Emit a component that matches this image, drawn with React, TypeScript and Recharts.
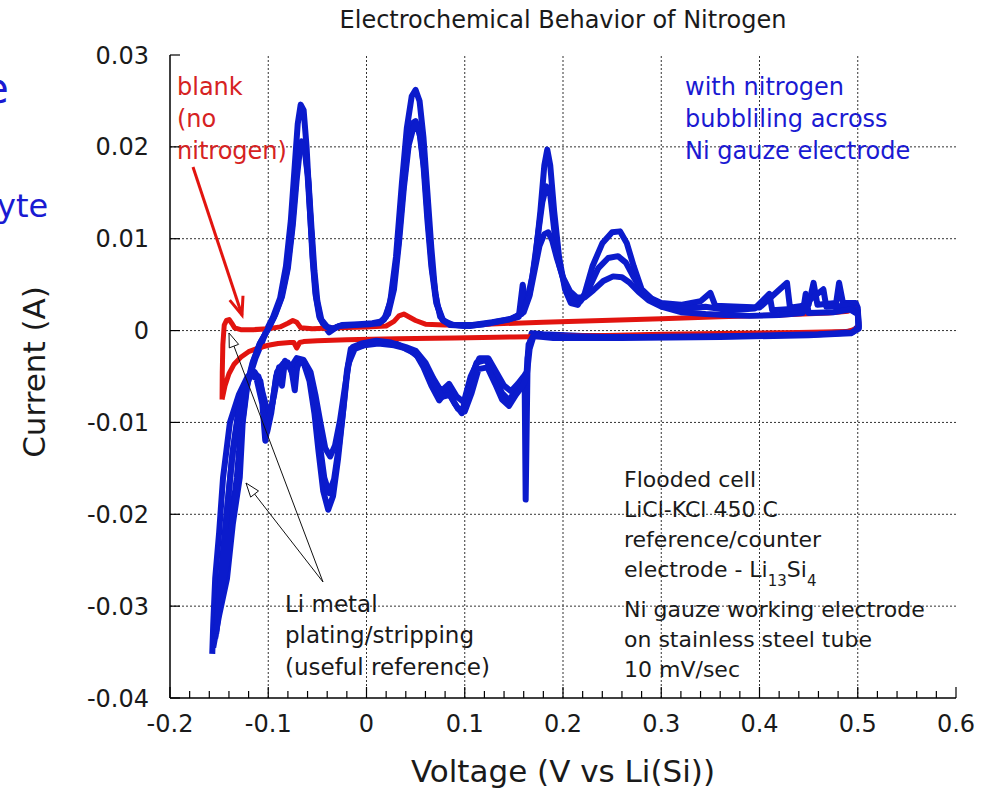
import React from 'react';
import { LineChart, Line, XAxis, YAxis, ReferenceLine } from 'recharts';

const FONT = '"DejaVu Sans", "Liberation Sans", sans-serif';
const BLUE = '#0b1bcc';
const RED = '#e2140f';
const TEXT_BLUE = '#1a1ad2';
const TEXT_RED = '#d62222';
const INK = '#1a1a1a';

// Axis ticks and their labels
const X_MAJOR = [-0.2, -0.1, 0, 0.1, 0.2, 0.3, 0.4, 0.5, 0.6];
const X_LABELS = ['-0.2', '-0.1', '0', '0.1', '0.2', '0.3', '0.4', '0.5', '0.6'];
const X_TICKS = Array.from({ length: 41 }, (_, k) => Math.round((-0.2 + k * 0.02) * 100) / 100);
const Y_MAJOR = [0.03, 0.02, 0.01, 0, -0.01, -0.02, -0.03, -0.04];
const Y_LABELS = ['0.03', '0.02', '0.01', '0', '-0.01', '-0.02', '-0.03', '-0.04'];

type Pt = [number, number]; // [voltage V, current A]

// Nitrogen-bubbling scans: anodic sweep up to 0.5 V, then cathodic sweep back
const BLUE_CYCLE_1: Pt[] = [
  [-0.156, -0.0345], [-0.15, -0.031], [-0.142, -0.027], [-0.136, -0.021], [-0.129, -0.016],
  [-0.126, -0.01], [-0.121, -0.0057], [-0.113, -0.003], [-0.106, -0.0012], [-0.102, 0.0],
  [-0.095, 0.0015], [-0.088, 0.0035], [-0.082, 0.007], [-0.077, 0.012], [-0.073, 0.018],
  [-0.07, 0.0225], [-0.067, 0.0246], [-0.064, 0.024], [-0.061, 0.02], [-0.058, 0.014],
  [-0.055, 0.008], [-0.052, 0.004], [-0.048, 0.0015], [-0.043, 0.0005], [-0.038, -0.0002],
  [-0.03, 0.0004], [-0.015, 0.0005], [0.0, 0.0006], [0.01, 0.0006], [0.018, 0.0012],
  [0.024, 0.003], [0.03, 0.008], [0.036, 0.016], [0.041, 0.022], [0.046, 0.0255],
  [0.05, 0.0262], [0.054, 0.025], [0.058, 0.021], [0.062, 0.015], [0.066, 0.009],
  [0.07, 0.004], [0.075, 0.0015], [0.082, 0.0007], [0.1, 0.0005], [0.12, 0.0007],
  [0.14, 0.001], [0.155, 0.0015], [0.159, 0.005], [0.162, 0.0028], [0.166, 0.004],
  [0.172, 0.008], [0.177, 0.013], [0.181, 0.018], [0.184, 0.0197], [0.187, 0.018],
  [0.191, 0.013], [0.196, 0.008], [0.202, 0.0045], [0.208, 0.003], [0.215, 0.0028],
  [0.222, 0.004], [0.23, 0.007], [0.24, 0.0095], [0.25, 0.0107], [0.258, 0.0108],
  [0.265, 0.0095], [0.272, 0.007], [0.28, 0.0045], [0.29, 0.0035], [0.3, 0.003],
  [0.32, 0.0028], [0.34, 0.0032], [0.35, 0.0041], [0.355, 0.0027], [0.38, 0.0026],
  [0.4, 0.0025], [0.428, 0.0052], [0.431, 0.0025], [0.45, 0.0028], [0.455, 0.0052],
  [0.459, 0.0028], [0.478, 0.003], [0.481, 0.0052], [0.485, 0.003], [0.498, 0.003],
  [0.5, 0.0025],
  [0.501, 0.0005], [0.495, -0.0001], [0.47, -0.0003], [0.4, -0.0005], [0.3, -0.0006],
  [0.22, -0.0006], [0.18, -0.0004], [0.168, -0.0003], [0.164, -0.003], [0.162, -0.0184],
  [0.161, -0.006], [0.158, -0.0055], [0.152, -0.0065], [0.145, -0.0076], [0.138, -0.0068],
  [0.13, -0.005], [0.122, -0.0032], [0.112, -0.0035], [0.104, -0.006], [0.097, -0.009],
  [0.09, -0.008], [0.082, -0.0065], [0.074, -0.0076], [0.066, -0.006], [0.058, -0.004],
  [0.05, -0.0025], [0.04, -0.002], [0.03, -0.0014], [0.015, -0.0012], [0.0, -0.0015],
  [-0.01, -0.0018], [-0.016, -0.002], [-0.02, -0.0045], [-0.024, -0.009], [-0.029, -0.014],
  [-0.034, -0.018], [-0.039, -0.0195], [-0.044, -0.0175], [-0.049, -0.013], [-0.053, -0.009],
  [-0.058, -0.0055], [-0.064, -0.0035], [-0.07, -0.0032], [-0.073, -0.0065], [-0.076, -0.0045],
  [-0.08, -0.0035], [-0.086, -0.0038], [-0.092, -0.005], [-0.097, -0.009], [-0.101, -0.011],
  [-0.104, -0.0085], [-0.108, -0.0055], [-0.114, -0.0045], [-0.121, -0.005], [-0.13, -0.007],
  [-0.139, -0.01], [-0.146, -0.016], [-0.15, -0.022], [-0.154, -0.027], [-0.156, -0.032],
  [-0.157, -0.0352],
];

const BLUE_CYCLE_2: Pt[] = [
  [-0.154, -0.0335], [-0.149, -0.029], [-0.143, -0.026], [-0.138, -0.021], [-0.132, -0.016],
  [-0.128, -0.011], [-0.123, -0.0065], [-0.116, -0.0035], [-0.109, -0.0015], [-0.101, 0.0],
  [-0.094, 0.0015], [-0.087, 0.0035], [-0.081, 0.0065], [-0.076, 0.011], [-0.072, 0.016],
  [-0.069, 0.0195], [-0.066, 0.0206], [-0.063, 0.0198], [-0.06, 0.017], [-0.057, 0.012],
  [-0.054, 0.007], [-0.051, 0.0035], [-0.047, 0.0013], [-0.042, 0.0005], [-0.036, 0.0001],
  [-0.028, 0.0005], [-0.012, 0.0006], [0.004, 0.0007], [0.013, 0.0008], [0.02, 0.0015],
  [0.026, 0.004], [0.032, 0.009], [0.037, 0.015], [0.042, 0.02], [0.047, 0.0226],
  [0.05, 0.0228], [0.054, 0.0215], [0.058, 0.018], [0.062, 0.012], [0.066, 0.007],
  [0.071, 0.003], [0.077, 0.0012], [0.085, 0.0006], [0.105, 0.0005], [0.125, 0.0008],
  [0.145, 0.0012], [0.158, 0.0018], [0.164, 0.0035], [0.169, 0.006], [0.174, 0.01],
  [0.179, 0.014], [0.183, 0.0157], [0.187, 0.0148], [0.191, 0.011], [0.196, 0.0072],
  [0.203, 0.0045], [0.21, 0.0032], [0.218, 0.0032], [0.226, 0.0045], [0.236, 0.0068],
  [0.246, 0.0079], [0.256, 0.0081], [0.264, 0.0074], [0.272, 0.0058], [0.281, 0.0042],
  [0.292, 0.0033], [0.305, 0.0027], [0.325, 0.0024], [0.345, 0.0026], [0.37, 0.0022],
  [0.395, 0.0024], [0.41, 0.004], [0.413, 0.0022], [0.44, 0.0024], [0.465, 0.0045],
  [0.468, 0.0026], [0.49, 0.0027], [0.5, 0.0022],
  [0.501, 0.0003], [0.494, -0.0002], [0.46, -0.0004], [0.38, -0.0006], [0.28, -0.0007],
  [0.2, -0.0007], [0.17, -0.0005], [0.165, -0.0015], [0.163, -0.0045], [0.16, -0.005],
  [0.154, -0.0058], [0.147, -0.0066], [0.14, -0.006], [0.132, -0.0045], [0.124, -0.003],
  [0.115, -0.003], [0.106, -0.005], [0.099, -0.0078], [0.092, -0.0072], [0.084, -0.0058],
  [0.076, -0.0066], [0.068, -0.0052], [0.06, -0.0035], [0.05, -0.0022], [0.04, -0.0018],
  [0.025, -0.0013], [0.01, -0.0011], [-0.005, -0.0014], [-0.014, -0.0018], [-0.019, -0.004],
  [-0.023, -0.008], [-0.028, -0.0125], [-0.033, -0.0162], [-0.038, -0.0177], [-0.043, -0.016],
  [-0.048, -0.012], [-0.053, -0.0082], [-0.058, -0.005], [-0.064, -0.0032], [-0.071, -0.003],
  [-0.077, -0.004], [-0.083, -0.0033], [-0.086, -0.006], [-0.089, -0.004], [-0.094, -0.007],
  [-0.099, -0.0095], [-0.104, -0.0075], [-0.11, -0.005], [-0.117, -0.0046], [-0.124, -0.0058],
  [-0.13, -0.0085], [-0.136, -0.013], [-0.141, -0.0185], [-0.146, -0.024], [-0.15, -0.029],
  [-0.153, -0.032], [-0.154, -0.0335],
];

const BLUE_CYCLE_3: Pt[] = [
  [-0.153, -0.033], [-0.148, -0.0285], [-0.141, -0.0245], [-0.135, -0.0195], [-0.13, -0.015],
  [-0.127, -0.0105], [-0.122, -0.0062], [-0.115, -0.0033], [-0.108, -0.0013], [-0.1, 0.0002],
  [-0.093, 0.0017], [-0.086, 0.0037], [-0.08, 0.0068], [-0.075, 0.0115], [-0.071, 0.0165],
  [-0.068, 0.0195], [-0.065, 0.0203], [-0.062, 0.0192], [-0.059, 0.0162], [-0.056, 0.0112],
  [-0.053, 0.0065], [-0.05, 0.0032], [-0.046, 0.0012], [-0.04, 0.0004], [-0.034, 0.0002],
  [-0.025, 0.0006], [-0.008, 0.0007], [0.006, 0.0008], [0.015, 0.001], [0.022, 0.0018],
  [0.028, 0.0045], [0.033, 0.0095], [0.038, 0.0155], [0.043, 0.0202], [0.048, 0.0222],
  [0.051, 0.0225], [0.055, 0.021], [0.059, 0.0172], [0.063, 0.0115], [0.067, 0.0065],
  [0.072, 0.0028], [0.078, 0.0011], [0.088, 0.0006], [0.108, 0.0006], [0.128, 0.0009],
  [0.148, 0.0013], [0.16, 0.002], [0.166, 0.0038], [0.171, 0.0065], [0.176, 0.0092],
  [0.181, 0.0105], [0.185, 0.0107], [0.189, 0.0098], [0.194, 0.0078], [0.2, 0.0058],
  [0.207, 0.0043], [0.214, 0.0036], [0.222, 0.0036], [0.231, 0.0044], [0.241, 0.0054],
  [0.251, 0.0059], [0.26, 0.0058], [0.268, 0.0052], [0.277, 0.0042], [0.287, 0.0033],
  [0.3, 0.0026], [0.32, 0.002], [0.345, 0.0018], [0.365, 0.0017], [0.39, 0.0016],
  [0.42, 0.0017], [0.444, 0.0019], [0.447, 0.004], [0.45, 0.0019], [0.475, 0.002],
  [0.492, 0.0023], [0.5, 0.0018],
  [0.501, 0.0002], [0.493, -0.0003], [0.45, -0.0005], [0.36, -0.0007], [0.26, -0.0008],
  [0.19, -0.0008], [0.17, -0.0006], [0.166, -0.002], [0.163, -0.005], [0.159, -0.006],
  [0.152, -0.007], [0.145, -0.0082], [0.138, -0.0075], [0.131, -0.0058], [0.123, -0.004],
  [0.114, -0.0042], [0.107, -0.0068], [0.1, -0.0088], [0.093, -0.0085], [0.085, -0.007],
  [0.077, -0.0072], [0.069, -0.0058], [0.061, -0.0042], [0.052, -0.0028], [0.042, -0.002],
  [0.028, -0.0016], [0.012, -0.0014], [-0.002, -0.0016], [-0.012, -0.002], [-0.018, -0.0035],
  [-0.022, -0.0062], [-0.027, -0.0098], [-0.032, -0.0125], [-0.037, -0.0137], [-0.042, -0.0128],
  [-0.047, -0.01], [-0.052, -0.007], [-0.057, -0.0045], [-0.063, -0.0034], [-0.069, -0.0036],
  [-0.074, -0.005], [-0.079, -0.0038], [-0.085, -0.0036], [-0.091, -0.0045], [-0.096, -0.008],
  [-0.1, -0.01], [-0.103, -0.012], [-0.106, -0.008], [-0.112, -0.0052], [-0.119, -0.0048],
  [-0.125, -0.0062], [-0.131, -0.0095], [-0.137, -0.014], [-0.142, -0.0195], [-0.146, -0.0245],
  [-0.15, -0.029], [-0.152, -0.0318], [-0.153, -0.033],
];

// Blank melt without nitrogen
const BLANK_CYCLE: Pt[] = [
  [-0.147, -0.0075], [-0.1468, -0.0045], [-0.1462, -0.0015], [-0.1448, 0.0006], [-0.1425, 0.0011],
  [-0.1398, 0.0012], [-0.1372, 0.0008], [-0.1342, 0.0003], [-0.128, 0.0001], [-0.115, 0.0001],
  [-0.1, 0.0002], [-0.088, 0.0004], [-0.08, 0.0008], [-0.075, 0.0011], [-0.071, 0.0009],
  [-0.067, 0.0003], [-0.055, 0.0002], [-0.03, 0.0003], [0.0, 0.0004], [0.02, 0.0005],
  [0.028, 0.001], [0.033, 0.0016], [0.038, 0.0018], [0.043, 0.0015], [0.05, 0.0011],
  [0.06, 0.0007], [0.08, 0.0006], [0.12, 0.0007], [0.18, 0.0009], [0.24, 0.0011],
  [0.3, 0.0013], [0.36, 0.0015], [0.42, 0.0017], [0.47, 0.0019], [0.49, 0.0021],
  [0.497, 0.0024], [0.5, 0.002], [0.501, 0.0008], [0.499, 0.0002],
  [0.49, -0.0001], [0.44, -0.0002], [0.38, -0.0003], [0.3, -0.0004], [0.22, -0.0006],
  [0.15, -0.0007], [0.09, -0.0008], [0.03, -0.0009], [-0.02, -0.001], [-0.05, -0.0011],
  [-0.064, -0.0012], [-0.068, -0.0013], [-0.071, -0.0019], [-0.074, -0.0013], [-0.078, -0.0013],
  [-0.09, -0.0014], [-0.1, -0.0016], [-0.11, -0.0019], [-0.12, -0.0023], [-0.128, -0.0029],
  [-0.135, -0.0037], [-0.14, -0.0047], [-0.144, -0.006], [-0.147, -0.0075],
];

const rows = (pts: Pt[]) => pts.map(([v, i]) => ({ v, i }));

const majorIndex = (list: number[], value: number) =>
  list.findIndex((m) => Math.abs(m - value) < 1e-9);

function BottomTick(props: any) {
  const { x, y, payload } = props;
  const idx = majorIndex(X_MAJOR, payload.value);
  const major = idx >= 0;
  return (
    <g>
      <line x1={x} y1={y} x2={x} y2={y - (major ? 11 : 7)} stroke="#000" strokeWidth={1.2} />
      {major && (
        <text x={x} y={y + 34} textAnchor="middle" fontSize={24} fontFamily={FONT} fill={INK}>
          {X_LABELS[idx]}
        </text>
      )}
    </g>
  );
}

function TopTick(props: any) {
  const { x, y, payload } = props;
  const major = majorIndex(X_MAJOR, payload.value) >= 0;
  return <line x1={x} y1={y} x2={x} y2={y + (major ? 11 : 7)} stroke="#000" strokeWidth={1.2} />;
}

function LeftTick(props: any) {
  const { x, y, payload } = props;
  const idx = majorIndex(Y_MAJOR, payload.value);
  return (
    <g>
      <line x1={x} y1={y} x2={x + 10} y2={y} stroke="#000" strokeWidth={1.2} />
      <text x={x - 21} y={y + 8.5} textAnchor="end" fontSize={24} fontFamily={FONT} fill={INK}>
        {Y_LABELS[idx]}
      </text>
    </g>
  );
}

function RightTick(props: any) {
  const { x, y } = props;
  return <line x1={x} y1={y} x2={x - 10} y2={y} stroke="#000" strokeWidth={1.2} />;
}

function headPoints(tipX: number, tipY: number, fromX: number, fromY: number, len: number, half: number) {
  const dx = fromX - tipX;
  const dy = fromY - tipY;
  const d = Math.hypot(dx, dy);
  const ux = dx / d;
  const uy = dy / d;
  const bx = tipX + ux * len;
  const by = tipY + uy * len;
  return `${bx - uy * half},${by + ux * half} ${tipX},${tipY} ${bx + uy * half},${by - ux * half}`;
}

const frame = { stroke: '#000', strokeWidth: 1.5 };

export default function App() {
  return (
    <div style={{ position: 'absolute', left: 0, top: 0, width: 986, height: 790, background: '#fff' }}>
      <LineChart width={986} height={790} margin={{ top: 55, right: 30, bottom: 52, left: 110 }}>
        <XAxis
          xAxisId="b" orientation="bottom" dataKey="v" type="number" domain={[-0.2, 0.6]}
          ticks={X_TICKS} interval={0} allowDataOverflow tickLine={false} tickSize={0} tickMargin={0}
          axisLine={frame} height={40} tick={(p: any) => <BottomTick {...p} />}
        />
        <XAxis
          xAxisId="t" orientation="top" dataKey="v" type="number" domain={[-0.2, 0.6]}
          ticks={X_TICKS} interval={0} allowDataOverflow tickLine={false} tickSize={0} tickMargin={0}
          axisLine={frame} height={0} tick={(p: any) => <TopTick {...p} />}
        />
        <YAxis
          yAxisId="l" orientation="left" type="number" domain={[-0.04, 0.03]}
          ticks={Y_MAJOR} interval={0} allowDataOverflow tickLine={false} tickSize={0} tickMargin={0}
          axisLine={frame} width={60} tick={(p: any) => <LeftTick {...p} />}
        />
        <YAxis
          yAxisId="r" orientation="right" type="number" domain={[-0.04, 0.03]}
          ticks={Y_MAJOR} interval={0} allowDataOverflow tickLine={false} tickSize={0} tickMargin={0}
          axisLine={frame} width={0} tick={(p: any) => <RightTick {...p} />}
        />
        {X_MAJOR.slice(1, -1).map((v) => (
          <ReferenceLine key={`gx${v}`} xAxisId="b" yAxisId="l" x={v} stroke="#333" strokeWidth={1} strokeDasharray="2 2" />
        ))}
        {Y_MAJOR.slice(1, -1).map((v) => (
          <ReferenceLine key={`gy${v}`} xAxisId="b" yAxisId="l" y={v} stroke="#333" strokeWidth={1} strokeDasharray="2 2" />
        ))}
        <Line xAxisId="b" yAxisId="l" data={rows(BLUE_CYCLE_1)} dataKey="i" type="linear" stroke={BLUE}
          strokeWidth={6} strokeLinejoin="round" dot={false} activeDot={false} isAnimationActive={false} />
        <Line xAxisId="b" yAxisId="l" data={rows(BLANK_CYCLE)} dataKey="i" type="linear" stroke={RED}
          strokeWidth={5} strokeLinejoin="round" dot={false} activeDot={false} isAnimationActive={false} />
        <Line xAxisId="b" yAxisId="l" data={rows(BLUE_CYCLE_2)} dataKey="i" type="linear" stroke={BLUE}
          strokeWidth={6} strokeLinejoin="round" dot={false} activeDot={false} isAnimationActive={false} />
        <Line xAxisId="b" yAxisId="l" data={rows(BLUE_CYCLE_3)} dataKey="i" type="linear" stroke={BLUE}
          strokeWidth={6} strokeLinejoin="round" dot={false} activeDot={false} isAnimationActive={false} />
      </LineChart>

      <svg width={986} height={790} style={{ position: 'absolute', left: 0, top: 0, pointerEvents: 'none' }}>
        <g fontFamily={FONT}>
          <text x={563} y={28} textAnchor="middle" fontSize={24} fill={INK}>Electrochemical Behavior of Nitrogen</text>
          <text x={563} y={782} textAnchor="middle" fontSize={31} fill={INK}>Voltage (V vs Li(Si))</text>
          <text x={45} y={372} textAnchor="middle" fontSize={31} fill={INK} transform="rotate(-90 45 372)">Current (A)</text>

          <text x={-17} y={103} fontSize={42} fill={TEXT_BLUE}>e</text>
          <text x={-3} y={217} fontSize={32} fill={TEXT_BLUE}>yte</text>

          <g fontSize={24} fill={TEXT_RED}>
            <text x={177} y={95}>blank</text>
            <text x={177} y={127}>(no</text>
            <text x={177} y={159}>nitrogen)</text>
          </g>
          <g fontSize={24} fill={TEXT_BLUE}>
            <text x={685} y={95}>with nitrogen</text>
            <text x={685} y={127}>bubbliling across</text>
            <text x={685} y={159}>Ni gauze electrode</text>
          </g>
          <g fontSize={22} fill={INK}>
            <text x={624} y={487}>Flooded cell</text>
            <text x={624} y={517}>LiCl-KCl 450 C</text>
            <text x={624} y={547}>reference/counter</text>
            <text x={624} y={577}>
              electrode - Li<tspan fontSize={15} dy={9}>13</tspan>
              <tspan dy={-9}>Si</tspan>
              <tspan fontSize={15} dy={9}>4</tspan>
            </text>
            <text x={624} y={617}>Ni gauze working electrode</text>
            <text x={624} y={647}>on stainless steel tube</text>
            <text x={624} y={677}>10 mV/sec</text>
          </g>
          <g fontSize={23} fill={INK}>
            <text x={285} y={612}>Li metal</text>
            <text x={285} y={643}>plating/stripping</text>
            <text x={285} y={675}>(useful reference)</text>
          </g>
        </g>

        <line x1={193} y1={167} x2={242} y2={315} stroke={RED} strokeWidth={3} />
        <polyline points={headPoints(242, 315, 193, 167, 18, 7)} fill="none" stroke={RED} strokeWidth={3} />

        <line x1={323} y1={582} x2={229} y2={333} stroke="#111" strokeWidth={1} />
        <polygon points={headPoints(229, 333, 323, 582, 14, 5)} fill="#fff" stroke="#111" strokeWidth={1} />
        <line x1={323} y1={582} x2={246} y2={483} stroke="#111" strokeWidth={1} />
        <polygon points={headPoints(246, 483, 323, 582, 14, 5)} fill="#fff" stroke="#111" strokeWidth={1} />
      </svg>
    </div>
  );
}
